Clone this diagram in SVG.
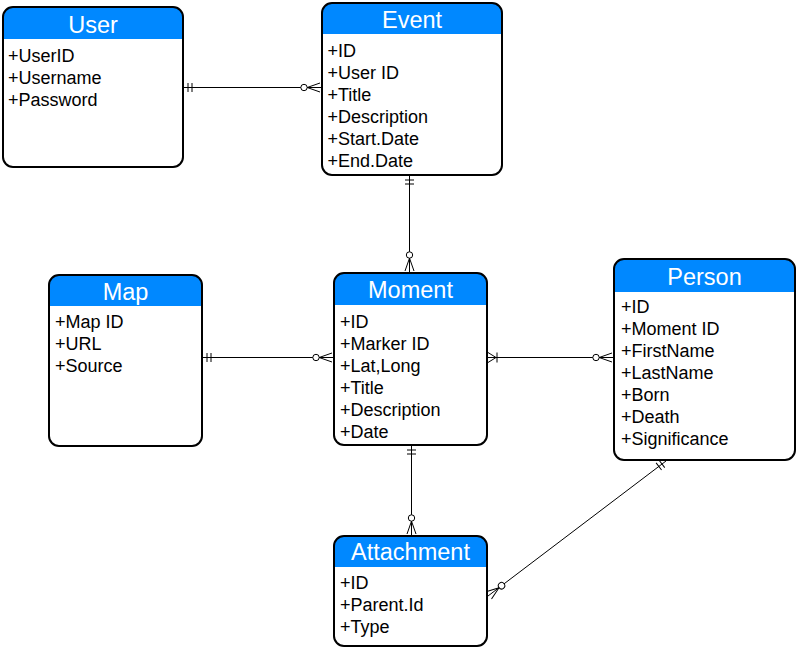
<svg xmlns="http://www.w3.org/2000/svg" width="797" height="652" viewBox="0 0 797 652">
<style>
.box{fill:#fff;stroke:none}
.hdr{fill:#0088ff}
.outl{fill:none;stroke:#000;stroke-width:2}
.title{font-family:"Liberation Sans",Arial,sans-serif;font-size:23.5px;fill:#fff;text-anchor:middle}
.attr{font-family:"Liberation Sans",Arial,sans-serif;font-size:18px;fill:#000}
.conn{fill:none;stroke:#000;stroke-width:1}
.mk{fill:none;stroke:#000;stroke-width:1}
</style>
<defs>
<marker id="oneOne" viewBox="0 -6 12 12" markerWidth="12" markerHeight="12" refX="0" refY="0" orient="auto" markerUnits="userSpaceOnUse">
<path class="mk" d="M5 -4.5 V4.5 M9 -4.5 V4.5"/>
</marker>
<marker id="oneMany" viewBox="0 -6 12 12" markerWidth="12" markerHeight="12" refX="0" refY="0" orient="auto" markerUnits="userSpaceOnUse">
<path class="mk" d="M1 -5 L9 0 L1 5 M10 -5 V5"/>
</marker>
<marker id="zeroMany" viewBox="-22 -7 23 14" markerWidth="23" markerHeight="14" refX="0" refY="0" orient="auto" markerUnits="userSpaceOnUse">
<circle cx="-17" cy="0" r="3.2" fill="#fff" stroke="#000" stroke-width="1"/>
<path class="mk" d="M-13.8 0 L-1 -4.5 M-13.8 0 L-1 4.5"/>
</marker>
</defs>

<g id="connectors">
<path class="conn" d="M183 87.5 H321" marker-start="url(#oneOne)" marker-end="url(#zeroMany)"/>
<path class="conn" d="M409.5 175 V272" marker-start="url(#oneOne)" marker-end="url(#zeroMany)"/>
<path class="conn" d="M202 357.5 H333" marker-start="url(#oneOne)" marker-end="url(#zeroMany)"/>
<path class="conn" d="M487 357.5 H613" marker-start="url(#oneMany)" marker-end="url(#zeroMany)"/>
<path class="conn" d="M411.5 445 V535" marker-start="url(#oneOne)" marker-end="url(#zeroMany)"/>
<path class="conn" d="M666 461 L488 596" marker-start="url(#oneOne)" marker-end="url(#zeroMany)"/>
</g>

<g id="user">
<rect class="box" x="3" y="7" width="180" height="160" rx="10"/>
<path class="hdr" d="M3 39 V17 A10 10 0 0 1 13 7 H173 A10 10 0 0 1 183 17 V39 Z"/>
<rect class="outl" x="3" y="7" width="180" height="160" rx="10"/>
<text class="title" x="93" y="33">User</text>
<text class="attr" x="8" y="62">+UserID</text>
<text class="attr" x="8" y="84">+Username</text>
<text class="attr" x="8" y="106">+Password</text>
</g>

<g id="event">
<rect class="box" x="322" y="3" width="180" height="172" rx="10"/>
<path class="hdr" d="M322 34 V13 A10 10 0 0 1 332 3 H492 A10 10 0 0 1 502 13 V34 Z"/>
<rect class="outl" x="322" y="3" width="180" height="172" rx="10"/>
<text class="title" x="412" y="28">Event</text>
<text class="attr" x="327.5" y="57">+ID</text>
<text class="attr" x="327.5" y="79">+User ID</text>
<text class="attr" x="327.5" y="101">+Title</text>
<text class="attr" x="327.5" y="123">+Description</text>
<text class="attr" x="327.5" y="145">+Start.Date</text>
<text class="attr" x="327.5" y="167">+End.Date</text>
</g>

<g id="map">
<rect class="box" x="49" y="275" width="153" height="171" rx="10"/>
<path class="hdr" d="M49 306 V285 A10 10 0 0 1 59 275 H192 A10 10 0 0 1 202 285 V306 Z"/>
<rect class="outl" x="49" y="275" width="153" height="171" rx="10"/>
<text class="title" x="125.5" y="300">Map</text>
<text class="attr" x="55" y="328">+Map ID</text>
<text class="attr" x="55" y="350">+URL</text>
<text class="attr" x="55" y="372">+Source</text>
</g>

<g id="moment">
<rect class="box" x="334" y="273" width="153" height="172" rx="10"/>
<path class="hdr" d="M334 305 V283 A10 10 0 0 1 344 273 H477 A10 10 0 0 1 487 283 V305 Z"/>
<rect class="outl" x="334" y="273" width="153" height="172" rx="10"/>
<text class="title" x="410.5" y="298">Moment</text>
<text class="attr" x="340" y="328">+ID</text>
<text class="attr" x="340" y="350">+Marker ID</text>
<text class="attr" x="340" y="372">+Lat,Long</text>
<text class="attr" x="340" y="394">+Title</text>
<text class="attr" x="340" y="416">+Description</text>
<text class="attr" x="340" y="438">+Date</text>
</g>

<g id="person">
<rect class="box" x="614" y="259" width="181" height="201" rx="10"/>
<path class="hdr" d="M614 292 V269 A10 10 0 0 1 624 259 H785 A10 10 0 0 1 795 269 V292 Z"/>
<rect class="outl" x="614" y="259" width="181" height="201" rx="10"/>
<text class="title" x="704.5" y="285">Person</text>
<text class="attr" x="621" y="313">+ID</text>
<text class="attr" x="621" y="335">+Moment ID</text>
<text class="attr" x="621" y="357">+FirstName</text>
<text class="attr" x="621" y="379">+LastName</text>
<text class="attr" x="621" y="401">+Born</text>
<text class="attr" x="621" y="423">+Death</text>
<text class="attr" x="621" y="445">+Significance</text>
</g>

<g id="attachment">
<rect class="box" x="334" y="536" width="153" height="110" rx="10"/>
<path class="hdr" d="M334 567 V546 A10 10 0 0 1 344 536 H477 A10 10 0 0 1 487 546 V567 Z"/>
<rect class="outl" x="334" y="536" width="153" height="110" rx="10"/>
<text class="title" x="410.5" y="560">Attachment</text>
<text class="attr" x="340" y="589">+ID</text>
<text class="attr" x="340" y="611">+Parent.Id</text>
<text class="attr" x="340" y="633">+Type</text>
</g>
</svg>
